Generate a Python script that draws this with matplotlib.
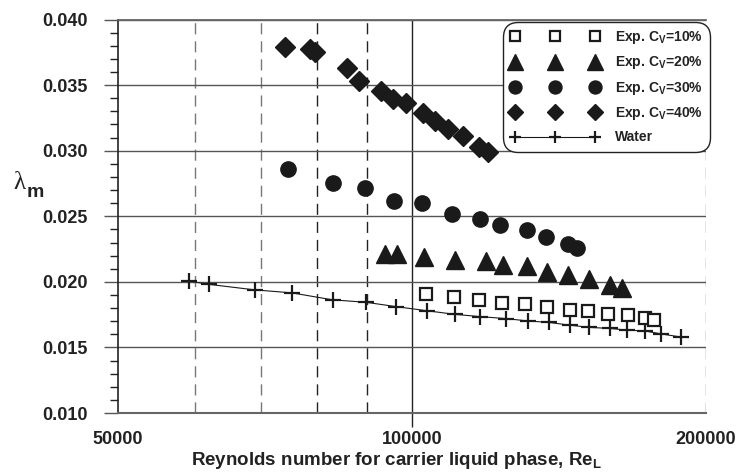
import numpy as np
import matplotlib.pyplot as plt
from matplotlib.ticker import FixedLocator, NullLocator, MultipleLocator, FormatStrFormatter

plt.rcParams['font.family'] = ['Liberation Sans', 'DejaVu Sans']
plt.rcParams['mathtext.fontset'] = 'custom'
plt.rcParams['mathtext.bf'] = 'Liberation Sans:bold'
plt.rcParams['mathtext.rm'] = 'Liberation Sans'

# data
re_10 = [103470, 110410, 117120, 123740, 130550, 137600, 145140, 151550, 158630, 166300, 173220, 176930]
lam_10 = [0.01905, 0.01884, 0.01859, 0.01841, 0.01828, 0.01808, 0.01788, 0.01775, 0.01757, 0.01744, 0.01724, 0.01711]

re_20 = [93840, 96640, 102910, 110590, 119150, 124020, 131260, 137500, 144560, 151900, 159500, 163970]
lam_20 = [0.02215, 0.02215, 0.02187, 0.02170, 0.02156, 0.02130, 0.02118, 0.02073, 0.02050, 0.02019, 0.01979, 0.01954]

re_30 = [74700, 82950, 89500, 95900, 102500, 109970, 117400, 123060, 131070, 137270, 144460, 147550]
lam_30 = [0.02864, 0.02754, 0.02716, 0.02617, 0.02603, 0.02515, 0.02476, 0.02437, 0.02399, 0.02342, 0.02286, 0.02256]

re_40 = [74125, 78600, 79560, 85730, 88260, 92900, 95620, 98600, 102600, 105700, 108940, 112860, 117180, 119500]
lam_40 = [0.03792, 0.03775, 0.03752, 0.03627, 0.03528, 0.03454, 0.03393, 0.03366, 0.03284, 0.03225, 0.03169, 0.03111, 0.03029, 0.02991]

re_w = [59100, 61960, 69010, 75360, 82930, 89790, 96360, 103520, 110750, 117480, 124750, 131410,
        137990, 145040, 151860, 159380, 166100, 173100, 180010, 188650]
lam_w = [0.02006, 0.01981, 0.01939, 0.01916, 0.01863, 0.01844, 0.01811, 0.01780, 0.01752, 0.01735, 0.01720, 0.01702,
         0.01691, 0.01670, 0.01653, 0.01645, 0.01632, 0.01626, 0.01603, 0.01579]

labels = ['Exp. C$_\\mathbf{V}$=10%', 'Exp. C$_\\mathbf{V}$=20%', 'Exp. C$_\\mathbf{V}$=30%',
          'Exp. C$_\\mathbf{V}$=40%', 'Water']
x_ticks = [50000, 100000, 200000]

fig = plt.figure(figsize=(7.41, 4.73), dpi=100)
ax = fig.add_axes([0.1592, 0.1268, 0.7935, 0.8319])
ax.set_xscale('log')
ax.set_xlim(50000, 200000)
ax.set_ylim(0.010, 0.040)

# grid
ax.grid(axis='y', which='major', color='#555555', lw=1.0, zorder=0)
for v, c in [(60000, '#777777'), (70000, '#777777'), (80000, '#222222'), (90000, '#222222'), (200000, '#777777')]:
    ax.axvline(v, color=c, lw=1.0, dashes=(8, 5), zorder=0)
ax.axvline(100000, color='#222222', lw=1.0, zorder=0)

k = '#1a1a1a'
h1, = ax.plot(re_10, lam_10, 's', ms=9, mfc='white', mec=k, mew=1.6, label=labels[0], zorder=3)
h2, = ax.plot(re_20, lam_20, '^', ms=13, color=k, mec=k, label=labels[1], zorder=3)
h3, = ax.plot(re_30, lam_30, 'o', ms=11, color=k, mec=k, label=labels[2], zorder=3)
h4, = ax.plot(re_40, lam_40, 'D', ms=10, color=k, mec=k, label=labels[3], zorder=3)
h5, = ax.plot(re_w, lam_w, '-+', ms=11, mew=1.6, lw=0.8, color=k, label=labels[4], zorder=4)

# axes styling
ax.spines['right'].set_visible(False)
ax.spines['top'].set_color('#666666')
ax.spines['top'].set_linewidth(1.3)
ax.spines['bottom'].set_color('#666666')
ax.spines['bottom'].set_linewidth(1.5)
ax.spines['left'].set_color('#222222')
ax.spines['left'].set_linewidth(1.2)

ax.xaxis.set_major_locator(FixedLocator(x_ticks))
ax.xaxis.set_minor_locator(NullLocator())
ax.set_xticklabels([str(t) for t in x_ticks])
ax.tick_params(axis='x', which='major', length=10, width=1, color='#222222', pad=3,
               labelsize=13)
for i, t in enumerate(ax.xaxis.get_major_ticks()):
    if i != 1:
        t.tick1line.set_visible(False)

ax.yaxis.set_major_locator(MultipleLocator(0.005))
ax.yaxis.set_minor_locator(MultipleLocator(0.001))
ax.yaxis.set_major_formatter(FormatStrFormatter('%.3f'))
ax.tick_params(axis='y', which='major', length=10, width=1, color='#555555', pad=12, labelsize=13)
ax.tick_params(axis='y', which='minor', length=6, width=1, color='#222222')
for lab in ax.get_xticklabels() + ax.get_yticklabels():
    lab.set_fontweight('bold')
    lab.set_color('#222222')

fig.text(0.535, 0.017, 'Reynolds number for carrier liquid phase, Re$_\\mathbf{L}$',
         ha='center', va='baseline', fontsize=13.5, fontweight='bold', color='#222222')
fig.text(0.0175, 0.6004, 'λ', family=['Liberation Serif', 'DejaVu Serif'], fontsize=18,
         ha='left', va='baseline', color='#222222')
fig.text(0.0365, 0.5835, 'm', fontsize=14, fontweight='bold', ha='left', va='baseline', color='#222222')

leg = ax.legend(handles=[h1, h2, h3, h4, h5], loc='upper right', bbox_to_anchor=(1.007, 0.995),
                numpoints=3, handlelength=6.4, handletextpad=1.1, labelspacing=0.6,
                borderpad=0.55, borderaxespad=0, fancybox=True, framealpha=1, markerscale=0.85,
                prop={'weight': 'bold', 'size': 10})
leg.get_frame().set_edgecolor('#222222')
leg.get_frame().set_linewidth(1.0)
leg.get_frame().set_boxstyle('round', pad=0, rounding_size=1.1)
for t in leg.get_texts():
    t.set_color('#222222')

fig.savefig('out.png', dpi=100)
